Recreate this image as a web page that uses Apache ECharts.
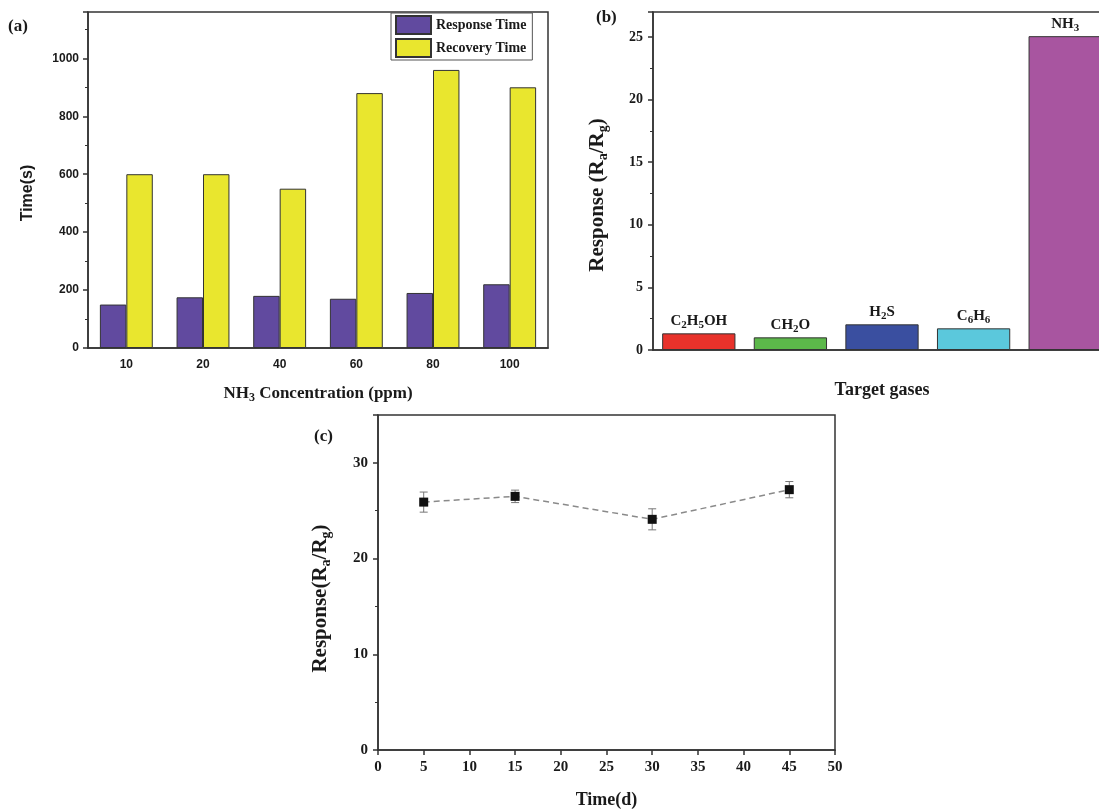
<!DOCTYPE html>
<html>
<head>
<meta charset="utf-8">
<script src="https://cdn.jsdelivr.net/npm/echarts@6/dist/echarts.min.js"></script>
<style>
  html, body { margin: 0; padding: 0; background: #fff; }
  #main { width: 1099px; height: 810px; }
</style>
</head>
<body>
<div id="main"></div>
<script>
// (a) response / recovery time vs NH3 concentration
var concLabels = ['10', '20', '40', '60', '80', '100'];
var responseTime = [150, 175, 180, 170, 190, 220];
var recoveryTime = [600, 600, 550, 880, 960, 900];

// (b) selectivity
var gasNames = ['C2H5OH', 'CH2O', 'H2S', 'C6H6', 'NH3'];
var gasLabels = ['C{s|2}H{s|5}OH', 'CH{s|2}O', 'H{s|2}S', 'C{s|6}H{s|6}', 'NH{s|3}'];
var gasResponse = [1.33, 1.01, 2.05, 1.73, 25.07];
var gasColors = ['#e8322b', '#5cb84a', '#3a4fa0', '#5bc8dc', '#a855a0'];

// (c) stability over days
var stabDays = [5, 15, 30, 45];
var stabResponse = [25.9, 26.5, 24.1, 27.2];
var stabError = [1.05, 0.65, 1.1, 0.85];

var serif = '"Liberation Serif", "DejaVu Serif", serif';
var sans = '"Liberation Sans", Arial, sans-serif';
var ink = '#1a1a1a';
var axisLine = { lineStyle: { color: '#333', width: 1.5 } };

function subRich(size, pad) {
    return { s: { fontSize: size, fontWeight: 'bold', fontFamily: serif, color: ink, padding: [pad, 0, 0, 0] } };
}

var chart = echarts.init(document.getElementById('main'));

var option = {
    animation: false,
    backgroundColor: '#fff',
    grid: [
        { left: 88, top: 12, width: 460, height: 336, show: true, borderColor: '#333', borderWidth: 1.5, outerBoundsMode: 'none' },
        { left: 653, top: 12, width: 458, height: 338, show: true, borderColor: '#333', borderWidth: 1.5, outerBoundsMode: 'none' },
        { left: 378, top: 415, width: 457, height: 335, show: true, borderColor: '#333', borderWidth: 1.5, outerBoundsMode: 'none' }
    ],
    legend: {
        data: ['Response Time', 'Recovery Time'],
        orient: 'vertical',
        left: 391,
        top: 13,
        itemWidth: 35,
        itemHeight: 18,
        itemGap: 3,
        padding: [2, 6, 2, 4],
        borderColor: '#555',
        borderWidth: 1,
        icon: 'rect',
        textStyle: { fontFamily: serif, fontWeight: 'bold', fontSize: 14, color: ink }
    },
    graphic: [
        { type: 'text', left: 8, top: 18, style: { text: '(a)', font: 'bold 17px ' + serif, fill: ink } },
        { type: 'text', left: 596, top: 9, style: { text: '(b)', font: 'bold 17px ' + serif, fill: ink } },
        { type: 'text', left: 314, top: 428, style: { text: '(c)', font: 'bold 17px ' + serif, fill: ink } }
    ],
    xAxis: [
        {
            gridIndex: 0,
            type: 'category',
            data: concLabels,
            axisLine: axisLine,
            axisTick: { length: 5, lineStyle: { color: '#333', width: 1.5 } },
            axisLabel: { fontFamily: sans, fontWeight: 'bold', fontSize: 12, color: ink, margin: 11 },
            name: 'NH{s|3} Concentration (ppm)',
            nameLocation: 'middle',
            nameGap: 35,
            nameTextStyle: { fontFamily: serif, fontWeight: 'bold', fontSize: 17, color: ink, rich: subRich(12, 9) }
        },
        {
            gridIndex: 1,
            type: 'category',
            data: gasNames,
            axisLine: axisLine,
            axisTick: { show: false },
            axisLabel: { show: false },
            name: 'Target gases',
            nameLocation: 'middle',
            nameGap: 31,
            nameTextStyle: { fontFamily: serif, fontWeight: 'bold', fontSize: 18, color: ink }
        },
        {
            gridIndex: 2,
            type: 'value',
            min: 0,
            max: 50,
            interval: 5,
            axisLine: axisLine,
            axisTick: { length: 5, lineStyle: { color: '#333', width: 1.5 } },
            splitLine: { show: false },
            axisLabel: { fontFamily: serif, fontWeight: 'bold', fontSize: 15, color: ink, margin: 10 },
            name: 'Time(d)',
            nameLocation: 'middle',
            nameGap: 41,
            nameTextStyle: { fontFamily: serif, fontWeight: 'bold', fontSize: 18, color: ink }
        }
    ],
    yAxis: [
        {
            gridIndex: 0,
            type: 'value',
            min: 0,
            max: 1160,
            interval: 200,
            axisLine: { show: true, lineStyle: { color: '#333', width: 1.5 } },
            axisTick: { show: true, length: 5, lineStyle: { color: '#333', width: 1.5 } },
            minorTick: { show: true, splitNumber: 2, length: 3, lineStyle: { color: '#333' } },
            splitLine: { show: false },
            axisLabel: {
                fontFamily: sans, fontWeight: 'bold', fontSize: 12, color: ink, margin: 9, showMaxLabel: false,
                formatter: function (v) { return String(v); }
            },
            name: 'Time(s)',
            nameLocation: 'middle',
            nameRotate: 90,
            nameGap: 52,
            nameTextStyle: { fontFamily: sans, fontWeight: 'bold', fontSize: 16, color: ink, padding: [0, 26, 0, 0] }
        },
        {
            gridIndex: 1,
            type: 'value',
            min: 0,
            max: 27,
            interval: 5,
            axisLine: { show: true, lineStyle: { color: '#333', width: 1.5 } },
            axisTick: { show: true, length: 5, lineStyle: { color: '#333', width: 1.5 } },
            minorTick: { show: true, splitNumber: 2, length: 3, lineStyle: { color: '#333' } },
            splitLine: { show: false },
            axisLabel: { fontFamily: serif, fontWeight: 'bold', fontSize: 14, color: ink, margin: 10, showMaxLabel: false },
            name: 'Response (R{s|a}/R{s|g})',
            nameLocation: 'middle',
            nameRotate: 90,
            nameGap: 43,
            nameTextStyle: { fontFamily: serif, fontWeight: 'bold', fontSize: 21, color: ink, padding: [0, 28, 0, 0], rich: subRich(14, 11) }
        },
        {
            gridIndex: 2,
            type: 'value',
            min: 0,
            max: 35,
            interval: 10,
            axisLine: { show: true, lineStyle: { color: '#333', width: 1.5 } },
            axisTick: { show: true, length: 5, lineStyle: { color: '#333', width: 1.5 } },
            minorTick: { show: true, splitNumber: 2, length: 3, lineStyle: { color: '#333' } },
            splitLine: { show: false },
            axisLabel: { fontFamily: serif, fontWeight: 'bold', fontSize: 15, color: ink, margin: 10, showMaxLabel: false },
            name: 'Response(R{s|a}/R{s|g})',
            nameLocation: 'middle',
            nameRotate: 90,
            nameGap: 45,
            nameTextStyle: { fontFamily: serif, fontWeight: 'bold', fontSize: 21, color: ink, padding: [0, 32, 0, 0], rich: subRich(14, 11) }
        }
    ],
    series: [
        {
            name: 'Response Time',
            type: 'bar',
            xAxisIndex: 0,
            yAxisIndex: 0,
            data: responseTime,
            barGap: '0%',
            barCategoryGap: '31%',
            itemStyle: { color: '#614a9f', borderColor: '#333', borderWidth: 1 }
        },
        {
            name: 'Recovery Time',
            type: 'bar',
            xAxisIndex: 0,
            yAxisIndex: 0,
            data: recoveryTime,
            barGap: '0%',
            barCategoryGap: '31%',
            itemStyle: { color: '#e9e62e', borderColor: '#333', borderWidth: 1 }
        },
        {
            name: 'Gas response',
            type: 'bar',
            xAxisIndex: 1,
            yAxisIndex: 1,
            barWidth: '80%',
            data: gasResponse.map(function (v, i) {
                return { value: v, itemStyle: { color: gasColors[i] } };
            }),
            itemStyle: { borderColor: '#333', borderWidth: 1 },
            label: {
                show: true,
                position: 'top',
                distance: 3,
                formatter: function (p) { return gasLabels[p.dataIndex]; },
                fontFamily: serif,
                fontWeight: 'bold',
                fontSize: 15,
                color: ink,
                rich: subRich(11, 8)
            }
        },
        {
            name: 'Stability',
            type: 'line',
            xAxisIndex: 2,
            yAxisIndex: 2,
            data: stabDays.map(function (d, i) { return [d, stabResponse[i]]; }),
            symbol: 'rect',
            symbolSize: 9,
            itemStyle: { color: '#111' },
            lineStyle: { color: '#8a8a8a', width: 1.5, type: [6, 4] },
            z: 3
        },
        {
            name: 'Stability error',
            type: 'custom',
            xAxisIndex: 2,
            yAxisIndex: 2,
            data: stabDays.map(function (d, i) {
                return [d, stabResponse[i] - stabError[i], stabResponse[i] + stabError[i]];
            }),
            renderItem: function (params, api) {
                var lo = api.coord([api.value(0), api.value(1)]);
                var hi = api.coord([api.value(0), api.value(2)]);
                var cap = 4;
                var st = { stroke: '#777', lineWidth: 1 };
                return {
                    type: 'group',
                    children: [
                        { type: 'line', shape: { x1: lo[0], y1: lo[1], x2: hi[0], y2: hi[1] }, style: st },
                        { type: 'line', shape: { x1: lo[0] - cap, y1: lo[1], x2: lo[0] + cap, y2: lo[1] }, style: st },
                        { type: 'line', shape: { x1: hi[0] - cap, y1: hi[1], x2: hi[0] + cap, y2: hi[1] }, style: st }
                    ]
                };
            },
            z: 2
        }
    ]
};

chart.setOption(option);
</script>
</body>
</html>
